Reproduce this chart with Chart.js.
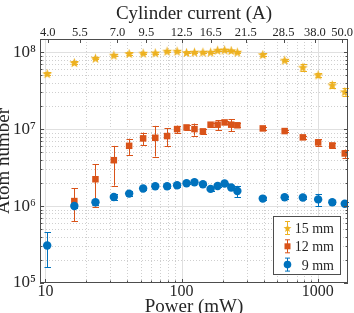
<!DOCTYPE html>
<html>
<head>
<meta charset="utf-8">
<script src="https://cdn.jsdelivr.net/npm/chart.js@4/dist/chart.umd.min.js"></script>
<style>
  html, body { margin: 0; padding: 0; background: #fff; }
  canvas { display: block; }
</style>
</head>
<body>
<canvas id="atomChart" width="354" height="313"></canvas>
<script>
// values
const power = [10.3, 16.3, 23.3, 31.8, 41.2, 52.2, 64.1, 78.3, 92.7, 108.8, 124.4, 143.5,
               163.4, 184, 207, 231.6, 257, 395, 572, 778, 1008, 1280, 1581];

const atoms15 = [5.26e7, 7.32e7, 8.35e7, 9.14e7, 9.6e7, 9.7e7, 9.8e7, 1.03e8, 1.03e8, 9.9e7, 1.0e8, 1.0e8,
                 1.0e8, 1.06e8, 1.07e8, 1.05e8, 1.0e8, 9.3e7, 7.87e7, 6.37e7, 5.06e7, 3.75e7, 3.06e7];
const err15 = [2e6, 3e6, 3e6, 3e6, 3e6, 3e6, 3e6, 3e6, 3e6, 3e6, 3e6, 3e6,
               3e6, 3e6, 3e6, 3e6, 3e6, 3e6, 3e6, 6.4e6, 2.5e6, 3.7e6, 3.4e6];

// 12 mm has no point at the lowest power
const atoms12 = [1.16e6, 2.23e6, 3.94e6, 6.06e6, 7.57e6, 7.7e6, 8.11e6, 1.0e7, 1.05e7, 1.0e7, 9.33e6,
                 1.14e7, 1.14e7, 1.22e7, 1.14e7, 1.12e7, 1.02e7, 9.42e6, 7.8e6, 6.71e6, 6.13e6, 4.82e6];
const err12 = [5.3e5, 1.25e6, 2.1e6, 1.45e6, 1.45e6, 3.3e6, 2.1e6, 1.1e6, 8e5, 1.8e6, 6e5,
               7e5, 1.7e6, 6e5, 2.0e6, 7e5, 4e5, 3e5, 4e5, 7e5, 4e5, 6e5];

const atoms9 = [3.07e5, 1.0e6, 1.12e6, 1.31e6, 1.45e6, 1.69e6, 1.81e6, 1.81e6, 1.86e6, 1.98e6, 2.04e6, 1.92e6,
                1.67e6, 1.82e6, 1.96e6, 1.74e6, 1.57e6, 1.25e6, 1.30e6, 1.29e6, 1.22e6, 1.12e6, 1.07e6];
const err9 = [1.47e5, 5e4, 9e4, 1.2e5, 1.1e5, 6e4, 6e4, 1e5, 7e4, 6e4, 5e4, 5e4,
              1.2e5, 6e4, 5e4, 1e5, 2.6e5, 5e4, 5e4, 5e4, 2.2e5, 7e4, 7e4];

// top axis: cylinder current, placed at the matching power
const currentLabels = ['4.0', '5.5', '7.0', '9.5', '12.5', '16.5', '21.5', '28.5', '38.0', '50.0'];
const currentPower = [10.4, 17.9, 33.8, 55.1, 100, 164, 296, 561, 954, 1511];

const xDecades = [10, 100, 1000];
const yDecades = [1e5, 1e6, 1e7, 1e8];

const X_MIN = 9.12, X_MAX = 1670;
const Y_MIN = 1e5, Y_MAX = 1.48e8;

const FONT = "'Liberation Serif', 'Times New Roman', serif";
const TEXT = '#262626';
const AXIS = '#4d4d4d';
const COL15 = '#EDB120', COL12 = '#D95319', COL9 = '#0072BD';

const SUP = { '0': '⁰', '1': '¹', '2': '²', '3': '³', '4': '⁴', '5': '⁵', '6': '⁶', '7': '⁷', '8': '⁸', '9': '⁹' };

// 1..9 x 10^n between min and max
function logTicks(min, max) {
    const out = [];
    for (let e = Math.floor(Math.log10(min)); e <= Math.ceil(Math.log10(max)); e++) {
        for (let m = 1; m < 10; m++) {
            const v = m * Math.pow(10, e);
            if (v >= min && v <= max) out.push(v);
        }
    }
    return out;
}

function starPath(ctx, x, y, r) {
    ctx.beginPath();
    for (let i = 0; i < 10; i++) {
        const rad = i % 2 ? r * 0.42 : r;
        const a = -Math.PI / 2 + i * Math.PI / 5;
        ctx.lineTo(x + rad * Math.cos(a), y + rad * Math.sin(a));
    }
    ctx.closePath();
}

function starImage(color, r) {
    const c = document.createElement('canvas');
    const s = Math.ceil(r * 2 + 2);
    c.width = s; c.height = s;
    const g = c.getContext('2d');
    starPath(g, s / 2, s / 2 + 0.5, r);
    g.fillStyle = color;
    g.fill();
    return c;
}
const starMarker = starImage(COL15, 5.2);

const toPoints = (ys, offset) => ys.map((y, i) => ({ x: power[i + offset], y }));

// grid behind the data, ticks + box on top
const frame = {
    id: 'frame',
    beforeDatasetsDraw(chart) {
        const { ctx, chartArea: a, scales } = chart;
        ctx.save();
        ctx.lineWidth = 1;
        scales.x.ticks.forEach(t => {
            if (t.value <= X_MIN || t.value >= X_MAX) return;
            const px = Math.round(scales.x.getPixelForValue(t.value)) + 0.5;
            const major = xDecades.includes(t.value);
            ctx.strokeStyle = major ? '#e0e0e0' : '#cfcfcf';
            ctx.setLineDash(major ? [] : [1, 2]);
            ctx.beginPath(); ctx.moveTo(px, a.top); ctx.lineTo(px, a.bottom); ctx.stroke();
        });
        scales.y.ticks.forEach(t => {
            if (t.value <= Y_MIN || t.value >= Y_MAX) return;
            const py = Math.round(scales.y.getPixelForValue(t.value)) + 0.5;
            const major = yDecades.includes(t.value);
            ctx.strokeStyle = major ? '#e0e0e0' : '#cfcfcf';
            ctx.setLineDash(major ? [] : [1, 2]);
            ctx.beginPath(); ctx.moveTo(a.left, py); ctx.lineTo(a.right, py); ctx.stroke();
        });
        ctx.restore();
    },
    afterDatasetsDraw(chart) {
        const { ctx, chartArea: a, scales } = chart;
        ctx.save();
        ctx.strokeStyle = AXIS;
        ctx.lineWidth = 1;
        ctx.beginPath();
        scales.x.ticks.forEach(t => {
            const px = Math.round(scales.x.getPixelForValue(t.value)) + 0.5;
            const len = xDecades.includes(t.value) ? 4 : 2.5;
            ctx.moveTo(px, a.bottom); ctx.lineTo(px, a.bottom - len);
        });
        scales.x2.ticks.forEach(t => {
            const px = Math.round(scales.x2.getPixelForValue(t.value)) + 0.5;
            ctx.moveTo(px, a.top); ctx.lineTo(px, a.top + 4);
        });
        scales.y.ticks.forEach(t => {
            const py = Math.round(scales.y.getPixelForValue(t.value)) + 0.5;
            const len = yDecades.includes(t.value) ? 4 : 2.5;
            ctx.moveTo(a.left, py); ctx.lineTo(a.left + len, py);
            ctx.moveTo(a.right, py); ctx.lineTo(a.right - len, py);
        });
        ctx.stroke();
        ctx.strokeRect(Math.round(a.left) + 0.5, Math.round(a.top) + 0.5,
            Math.round(a.right - a.left) - 1, Math.round(a.bottom - a.top) - 1);
        ctx.restore();
    }
};

// vertical error bars with caps, drawn under each dataset's markers
const errorBars = {
    id: 'errorBars',
    beforeDatasetDraw(chart, args) {
        const ds = chart.data.datasets[args.index];
        if (!ds.errors) return;
        const ctx = chart.ctx;
        const ys = chart.scales.y;
        ctx.save();
        ctx.strokeStyle = ds.errColor;
        ctx.lineWidth = 1;
        ctx.beginPath();
        args.meta.data.forEach((pt, i) => {
            const v = ds.data[i].y, e = ds.errors[i];
            const top = ys.getPixelForValue(v + e);
            const bot = ys.getPixelForValue(Math.max(v - e, Y_MIN / 2));
            const px = Math.round(pt.x) + 0.5;
            ctx.moveTo(px, top); ctx.lineTo(px, bot);
            ctx.moveTo(px - 3, Math.round(top) + 0.5); ctx.lineTo(px + 3.5, Math.round(top) + 0.5);
            ctx.moveTo(px - 3, Math.round(bot) + 0.5); ctx.lineTo(px + 3.5, Math.round(bot) + 0.5);
        });
        ctx.stroke();
        ctx.restore();
    }
};

const legendBox = {
    id: 'legendBox',
    afterDraw(chart) {
        const ctx = chart.ctx;
        const bx = 273.5, by = 216.5, bw = 67, bh = 58;
        ctx.save();
        ctx.fillStyle = '#fff';
        ctx.fillRect(bx, by, bw, bh);
        ctx.strokeStyle = AXIS;
        ctx.lineWidth = 1;
        ctx.strokeRect(bx, by, bw, bh);
        const items = [
            { label: '15 mm', color: COL15, shape: 'star' },
            { label: '12 mm', color: COL12, shape: 'square' },
            { label: '9 mm', color: COL9, shape: 'circle' }
        ];
        ctx.font = '14px ' + FONT;
        ctx.textAlign = 'right';
        ctx.textBaseline = 'alphabetic';
        items.forEach((it, i) => {
            const cy = 228 + i * 18.3;
            const cx = 287.5;
            ctx.strokeStyle = it.color;
            ctx.beginPath();
            ctx.moveTo(cx, cy - 6.5); ctx.lineTo(cx, cy + 6.5);
            ctx.moveTo(cx - 2.5, cy - 6.5); ctx.lineTo(cx + 2.5, cy - 6.5);
            ctx.moveTo(cx - 2.5, cy + 6.5); ctx.lineTo(cx + 2.5, cy + 6.5);
            ctx.stroke();
            ctx.fillStyle = it.color;
            if (it.shape === 'star') { starPath(ctx, cx, cy + 0.5, 4.2); ctx.fill(); }
            if (it.shape === 'square') ctx.fillRect(cx - 3, cy - 3, 6, 6);
            if (it.shape === 'circle') { ctx.beginPath(); ctx.arc(cx, cy, 3.8, 0, Math.PI * 2); ctx.fill(); }
            ctx.fillStyle = TEXT;
            ctx.fillText(it.label, 334, cy + 5);
        });
        ctx.restore();
    }
};

const zeroPad = s => { s.paddingLeft = 0; s.paddingRight = 0; s.paddingTop = 0; s.paddingBottom = 0; };

new Chart(document.getElementById('atomChart'), {
    type: 'scatter',
    data: {
        datasets: [
            {
                label: '9 mm', data: toPoints(atoms9, 0), errors: err9, errColor: COL9,
                pointStyle: 'circle', pointRadius: 4.2, pointBorderWidth: 0,
                backgroundColor: COL9, borderColor: COL9, order: 1
            },
            {
                label: '12 mm', data: toPoints(atoms12, 1), errors: err12, errColor: COL12,
                pointStyle: 'rect', pointRadius: 4.6, pointBorderWidth: 0,
                backgroundColor: COL12, borderColor: COL12, order: 2
            },
            {
                label: '15 mm', data: toPoints(atoms15, 0), errors: err15, errColor: COL15,
                pointStyle: starMarker, pointRadius: 5,
                backgroundColor: COL15, borderColor: COL15, order: 3
            }
        ]
    },
    options: {
        responsive: false,
        animation: false,
        devicePixelRatio: 1,
        layout: { padding: { left: 0, right: 4, top: 0, bottom: 0 } },
        plugins: { legend: { display: false }, tooltip: { enabled: false } },
        scales: {
            x: {
                type: 'logarithmic', position: 'bottom', min: X_MIN, max: X_MAX,
                afterBuildTicks: s => { s.ticks = logTicks(X_MIN, X_MAX).map(v => ({ value: v })); },
                afterFit: s => { s.height = 30; zeroPad(s); },
                grid: { display: false, drawTicks: false },
                border: { display: false },
                ticks: {
                    autoSkip: false, maxRotation: 0, padding: -1, color: TEXT,
                    font: { family: FONT, size: 16 },
                    callback: v => xDecades.includes(v) ? String(v) : ''
                },
                title: {
                    display: true, text: 'Power (mW)', color: TEXT,
                    font: { family: FONT, size: 19 }, padding: { top: 0, bottom: -5 }
                }
            },
            x2: {
                type: 'logarithmic', position: 'top', min: X_MIN, max: X_MAX,
                afterBuildTicks: s => { s.ticks = currentPower.map(v => ({ value: v })); },
                afterFit: s => { s.height = 39; zeroPad(s); },
                grid: { display: false, drawTicks: false },
                border: { display: false },
                ticks: {
                    autoSkip: false, maxRotation: 0, padding: -1.5, color: TEXT,
                    font: { family: FONT, size: 12.5 },
                    callback: (v, i) => currentLabels[i]
                },
                title: {
                    display: true, text: 'Cylinder current (A)', color: TEXT,
                    font: { family: FONT, size: 19 }, padding: { top: 3, bottom: 0 }
                }
            },
            y: {
                type: 'logarithmic', position: 'left', min: Y_MIN, max: Y_MAX,
                afterBuildTicks: s => { s.ticks = logTicks(Y_MIN, Y_MAX).map(v => ({ value: v })); },
                afterFit: s => { s.width = 40; zeroPad(s); },
                grid: { display: false, drawTicks: false },
                border: { display: false },
                ticks: {
                    autoSkip: false, padding: 4, color: TEXT,
                    font: { family: FONT, size: 17 },
                    callback: v => yDecades.includes(v) ? '10' + SUP[String(Math.round(Math.log10(v)))] : ''
                },
                title: {
                    display: true, text: 'Atom number', color: TEXT,
                    font: { family: FONT, size: 19 }, padding: { top: -7, bottom: 0 }
                }
            }
        }
    },
    plugins: [frame, errorBars, legendBox]
});
</script>
</body>
</html>
